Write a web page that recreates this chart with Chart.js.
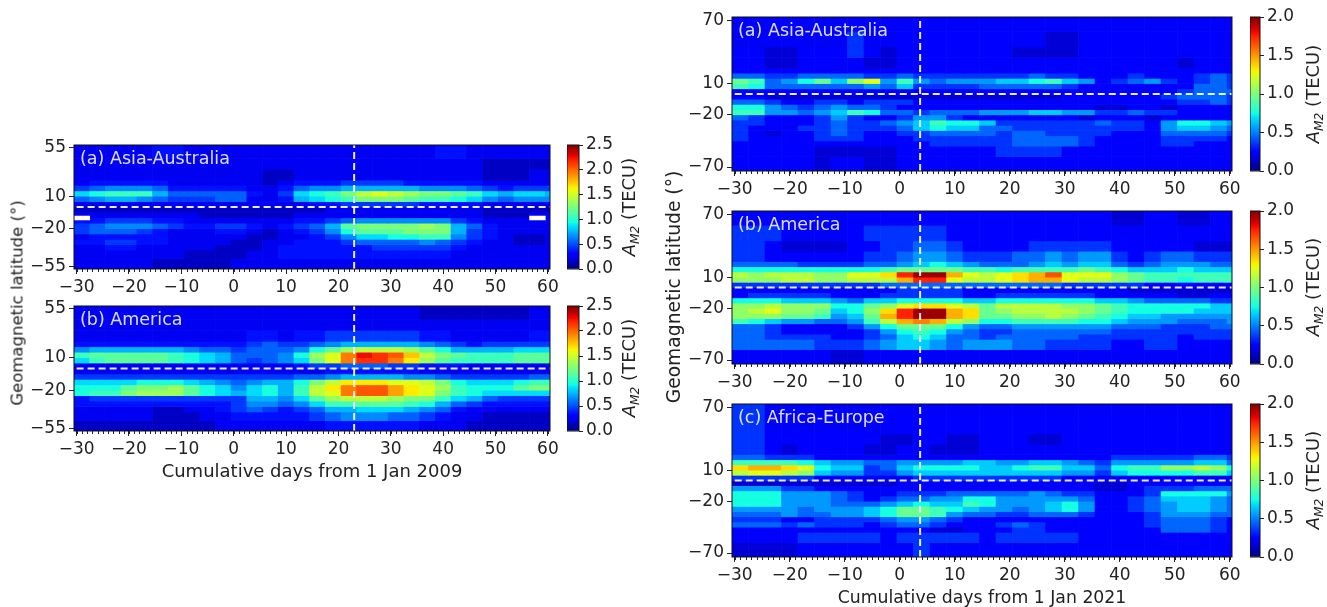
<!DOCTYPE html>
<html>
<head>
<meta charset="utf-8">
<title>A_M2 heat maps</title>
<script src="https://cdn.jsdelivr.net/npm/chart.js@4"></script>
<style>
  body { margin: 0; background: #fff; }
  #page { position: relative; width: 1327px; height: 607px; overflow: hidden; }
  canvas { position: absolute; }
  .rot {
    position: absolute; white-space: nowrap; color: #222;
    font-family: "DejaVu Sans", sans-serif;
    transform: translate(-50%, -50%) rotate(-90deg);
  }
  .rot sub { font-size: 0.68em; font-style: italic; line-height: 0; }
</style>
</head>
<body>
<div id="page"></div>
<script>
// one column every 3 days, values in tenths of TECU
const days = [-29,-26,-23,-20,-17,-14,-11,-8,-5,-2,1,4,7,10,13,16,19,22,25,28,31,34,37,40,43,46,49,52,55,58,61];
const dayTicks = [-30,-20,-10,0,10,20,30,40,50,60];

const latEdges2009 = [58,45,35,25,20,15,10,5,0,-5,-10,-15,-20,-25,-30,-35,-40,-48,-58];
const latEdges2021 = [74,60,45,35,25,20,15,10,5,0,-5,-10,-15,-20,-25,-30,-35,-40,-45,-50,-60,-74];
const latTicks2009 = [55,10,-20,-55];
const latTicks2021 = [70,10,-20,-70];
const cbarTicks2009 = [0,0.5,1,1.5,2,2.5];
const cbarTicks2021 = [0,0.5,1,1.5,2];

const eventDay2009 = 23;
const eventDay2021 = 3.7;
const missingDays = [-29,58];
const missingLat = [-12,-8.4];

const asia2009 = [
  [3,3,3,3,3,4,4,3,3,3,3,3,3,3,3,3,3,3,3,3,3,3,3,4,4,3,3,3,3,3,3],
  [3,3,3,3,3,3,3,3,3,3,3,3,3,3,3,3,3,3,3,3,3,3,3,3,3,3,2,2,2,2,2],
  [3,3,3,3,3,3,3,3,3,3,3,3,2,2,3,3,3,3,3,3,3,3,3,3,3,3,2,2,2,3,3],
  [3,4,4,4,4,4,3,3,3,3,3,3,2,3,4,4,4,5,5,5,5,4,4,4,4,4,3,3,3,3,3],
  [5,6,7,7,7,6,4,4,4,4,4,3,3,4,6,7,7,8,8,8,8,8,7,7,7,6,5,4,5,5,5],
  [9,10,11,11,11,8,6,6,6,6,6,4,3,5,9,10,11,13,15,16,15,14,13,13,12,11,9,8,9,9,8],
  [6,7,8,8,7,6,5,5,5,6,6,3,3,4,8,9,10,11,13,13,13,12,11,11,10,9,7,6,7,7,7],
  [3,3,3,3,3,3,3,3,3,3,3,3,3,3,3,4,4,5,5,5,5,5,4,4,4,4,3,3,3,3,3],
  [2,2,2,2,2,2,2,2,2,2,2,2,2,2,2,2,3,3,3,3,3,3,3,3,3,3,2,2,2,2,2],
  [3,3,3,3,3,3,3,3,2,2,2,2,2,2,3,3,3,3,3,3,3,3,3,3,3,3,2,2,2,3,3],
  [4,4,5,5,5,4,4,3,3,3,3,3,3,3,4,4,5,6,7,7,7,7,7,7,5,4,3,3,3,3,3],
  [5,6,7,7,7,6,5,4,4,5,5,4,3,4,5,6,8,12,13,13,13,13,14,13,8,6,4,3,3,3,3],
  [5,6,6,6,5,4,3,3,3,4,4,3,2,3,4,5,7,10,12,12,12,13,13,13,8,5,4,3,3,3,3],
  [3,4,4,4,4,4,3,3,3,3,3,2,2,3,3,4,5,7,9,9,10,10,11,11,7,5,4,3,2,2,3],
  [4,4,5,5,4,4,3,3,3,3,2,2,3,3,4,4,4,5,6,6,6,6,7,6,5,4,3,3,2,2,3],
  [3,3,4,4,3,3,3,3,3,2,2,2,3,4,4,4,4,4,4,5,5,5,5,5,4,3,3,3,3,3,3],
  [3,3,3,3,3,3,3,2,2,2,2,3,3,4,4,4,4,4,4,4,4,4,4,4,3,3,3,3,3,3,3],
  [3,3,3,3,3,2,2,2,2,2,3,3,3,3,3,3,3,3,3,3,3,3,3,3,3,3,3,3,3,3,3]
];

const america2009 = [
  [3,3,3,3,3,3,3,3,3,3,3,3,3,3,3,3,3,3,3,3,3,3,2,2,2,2,2,2,2,3,3],
  [3,3,3,3,3,3,3,3,3,3,3,3,3,3,3,3,3,3,3,3,3,3,3,3,3,3,3,3,3,3,3],
  [3,3,3,3,3,3,3,3,3,3,3,4,4,3,4,4,5,5,5,5,5,5,4,4,3,3,3,3,3,4,4],
  [4,4,4,4,4,4,4,4,4,4,4,5,6,5,5,6,7,8,8,8,8,8,7,6,5,4,5,5,5,5,5],
  [7,8,8,8,8,8,8,7,6,6,5,6,6,6,7,10,12,14,15,15,15,14,12,10,8,8,8,8,9,9,9],
  [11,12,12,12,12,12,11,10,9,8,6,6,6,7,10,14,16,20,23,22,21,18,15,13,12,11,11,11,12,12,12],
  [9,11,12,12,12,12,11,10,9,8,6,5,6,7,9,13,16,20,22,22,20,17,14,12,11,11,11,11,12,12,12],
  [3,3,3,3,3,3,3,3,3,3,3,3,3,3,4,5,5,6,6,6,5,5,4,4,4,3,3,3,3,3,3],
  [3,3,3,3,3,3,3,3,3,3,3,3,3,3,3,3,4,4,4,4,4,4,3,3,3,3,3,3,3,3,3],
  [5,5,5,5,5,5,5,5,5,5,5,5,5,5,6,6,7,8,8,8,8,7,7,6,5,5,5,5,5,6,6],
  [9,9,9,9,10,10,10,9,8,7,6,7,8,8,10,13,15,17,17,17,16,16,15,13,10,9,9,9,10,11,11],
  [10,10,10,12,13,13,14,12,10,9,7,9,10,8,11,15,17,20,21,21,19,17,16,14,11,10,10,10,12,13,13],
  [10,11,11,13,14,14,14,12,10,9,8,9,10,8,11,15,16,20,21,21,19,17,16,13,11,10,9,9,9,9,9],
  [4,5,5,5,5,5,5,5,5,5,5,8,8,7,9,12,14,15,15,15,14,13,13,11,9,8,6,5,5,5,5],
  [4,4,4,4,4,4,4,4,4,4,5,7,7,6,7,9,11,11,12,12,12,11,10,8,6,5,4,4,4,4,4],
  [3,3,3,3,3,2,2,3,3,4,5,6,5,4,5,6,8,8,9,9,9,8,7,6,4,3,3,3,3,3,3],
  [3,3,3,3,3,2,2,2,3,3,4,4,4,4,4,5,6,7,7,7,6,6,5,4,3,3,2,2,2,2,2],
  [2,2,2,2,2,2,2,2,2,3,3,3,3,3,3,3,4,4,4,4,4,4,3,3,3,2,2,2,2,2,2]
];

const asia2021 = [
  [3,3,3,3,3,3,3,3,3,3,3,3,3,3,3,3,3,3,3,3,3,3,3,3,3,3,3,3,3,3,3],
  [3,3,3,3,3,3,3,4,3,3,3,3,3,3,3,3,3,3,3,2,2,3,3,3,3,3,3,3,3,3,3],
  [3,3,2,2,3,3,3,4,3,2,3,3,3,3,3,3,3,2,2,2,2,3,3,3,3,3,3,3,3,3,3],
  [3,3,2,2,3,3,3,3,2,2,3,3,3,3,3,3,3,3,3,3,3,3,3,3,3,3,3,2,3,3,3],
  [3,3,3,3,3,3,3,3,3,3,3,3,3,3,3,3,3,3,3,3,3,3,3,3,3,3,3,3,3,3,3],
  [5,5,4,4,5,5,5,5,4,4,5,4,4,4,4,4,4,4,5,4,4,3,3,3,4,3,3,3,4,5,4],
  [10,9,5,6,8,10,7,11,13,6,9,6,5,6,6,6,7,7,8,9,7,6,3,4,5,6,4,3,4,5,4],
  [9,8,5,5,5,5,5,5,6,5,7,4,4,4,4,5,5,5,5,5,4,3,3,3,3,3,3,3,5,5,4],
  [3,3,3,3,3,3,3,3,3,3,3,3,3,3,3,3,3,3,3,3,3,3,3,3,3,3,3,4,5,5,5],
  [3,3,2,2,2,2,2,2,2,2,2,2,2,2,2,2,2,2,2,2,3,3,3,3,3,3,4,5,5,5,4],
  [5,5,4,3,3,4,4,3,4,4,4,3,3,3,3,3,3,3,3,3,3,3,3,3,3,3,3,4,4,5,4],
  [8,8,6,5,4,5,6,5,5,4,3,3,3,3,3,3,3,3,3,3,3,3,2,2,3,3,2,3,3,3,3],
  [9,9,6,6,5,6,7,9,8,5,5,4,5,5,5,6,6,6,7,7,6,6,4,4,5,4,4,3,3,3,3],
  [5,4,3,3,3,4,6,4,3,3,4,6,6,4,3,3,3,3,3,3,3,2,3,3,3,2,3,3,3,3,3],
  [4,4,3,3,3,4,5,4,4,5,6,7,9,8,8,7,4,4,4,4,4,4,5,4,4,3,6,8,8,7,6],
  [4,3,3,3,4,4,5,4,4,4,5,7,8,7,7,5,5,4,4,4,4,4,4,4,4,3,6,7,7,6,5],
  [4,3,2,3,3,4,5,4,3,3,4,4,5,5,5,5,4,5,5,4,4,4,4,3,3,3,5,5,5,5,4],
  [4,3,3,3,3,4,4,4,3,3,3,4,4,4,4,4,4,5,5,5,5,4,3,3,3,3,4,4,4,4,3],
  [3,3,3,3,3,3,3,3,3,3,3,3,4,4,4,4,4,5,5,5,5,4,3,3,3,3,4,4,3,3,3],
  [3,3,3,3,3,2,2,2,2,2,3,3,3,3,3,3,4,4,4,4,3,3,3,3,3,3,3,3,3,3,3],
  [3,3,3,3,3,2,3,3,2,2,3,3,3,3,3,3,3,3,3,3,3,3,3,3,3,3,3,3,3,3,3]
];

const america2021 = [
  [3,3,3,3,3,3,3,3,3,3,3,3,3,3,3,3,3,3,3,3,3,3,3,2,2,3,3,2,2,3,3],
  [4,4,4,3,3,3,3,3,4,4,4,4,4,3,3,3,3,3,3,3,3,3,3,3,3,3,3,3,3,3,3],
  [4,4,3,2,2,2,2,3,3,4,4,5,5,4,3,3,3,3,4,4,4,4,4,3,3,3,3,3,2,2,2],
  [4,4,3,3,3,3,3,3,4,4,5,6,6,5,4,4,4,5,5,6,5,6,6,4,3,4,5,5,4,4,4],
  [5,5,5,5,4,4,4,4,5,5,6,7,8,7,6,5,5,5,6,7,6,7,7,5,4,5,6,6,6,5,5],
  [8,8,8,8,8,8,8,8,8,9,10,10,10,10,9,9,8,9,9,9,9,10,9,8,7,7,7,8,7,7,7],
  [12,11,12,12,12,11,11,13,13,14,18,20,20,15,13,12,13,14,15,17,13,13,13,11,10,9,9,9,9,9,9],
  [11,11,11,12,12,11,11,12,12,12,15,18,18,13,12,12,13,14,15,15,13,12,12,11,10,9,9,8,9,9,9],
  [4,4,4,4,4,4,4,4,4,5,5,5,5,5,5,5,5,5,5,5,4,4,4,4,4,3,3,3,3,3,3],
  [3,3,3,3,3,3,3,3,3,3,4,4,4,4,3,3,3,3,3,3,3,3,3,3,2,2,2,2,2,2,2],
  [3,4,4,4,4,4,3,3,3,4,4,4,4,4,3,3,4,4,4,4,4,4,3,3,3,3,3,2,2,3,3],
  [8,8,8,7,7,7,6,5,7,7,8,8,8,8,7,7,8,8,8,8,8,8,7,7,6,5,5,5,5,4,4],
  [11,11,12,11,11,11,8,8,10,11,13,14,14,13,12,10,12,12,12,12,11,11,10,9,8,8,8,8,8,7,7],
  [11,12,13,11,11,10,7,8,11,14,18,20,20,15,14,10,11,12,12,12,12,11,10,9,8,8,8,8,7,7,7],
  [11,11,11,10,10,9,6,7,10,15,18,20,20,15,14,10,10,11,11,12,11,10,9,8,7,7,6,6,6,6,6],
  [9,8,7,6,6,5,5,6,9,12,15,16,15,12,11,8,8,9,9,9,9,8,8,7,6,6,6,5,5,5,6],
  [5,5,4,3,3,3,3,4,6,8,10,10,10,8,6,5,5,6,6,6,6,6,6,5,5,5,4,4,4,5,5],
  [5,5,4,3,3,3,3,3,4,6,8,9,8,6,5,4,4,5,5,5,5,5,5,4,4,4,4,4,4,4,4],
  [5,5,4,4,4,4,3,3,4,5,7,8,7,5,5,4,5,5,5,5,5,4,4,4,4,4,4,3,4,4,4],
  [5,5,5,5,5,4,4,4,5,6,7,7,6,5,6,6,6,5,5,4,4,4,4,3,3,4,4,3,3,3,3],
  [3,3,3,3,3,3,2,2,3,3,3,3,3,3,3,3,3,3,3,3,3,3,3,3,3,3,3,3,3,3,3]
];

const africa2021 = [
  [4,4,3,3,3,3,3,3,3,3,3,3,3,3,3,3,3,3,3,3,3,3,3,3,3,3,3,3,3,3,3],
  [4,4,3,3,3,3,3,3,3,3,3,3,3,3,3,3,3,3,3,3,3,3,3,3,3,3,3,3,3,3,3],
  [4,4,3,3,3,3,3,3,3,2,2,3,3,2,2,3,3,3,2,2,3,3,3,3,3,3,3,3,3,3,3],
  [4,4,3,2,3,3,3,3,2,2,3,3,2,2,2,3,3,3,3,3,3,3,3,3,3,3,3,3,3,3,3],
  [5,5,4,4,4,3,3,3,3,3,3,3,3,3,3,3,3,3,3,3,3,3,3,4,4,4,4,4,5,5,4],
  [9,9,9,9,8,7,6,6,5,5,6,6,6,6,7,7,6,6,7,7,6,5,4,6,6,6,6,6,7,7,5],
  [14,15,15,14,13,8,7,7,4,5,7,8,8,8,8,7,7,8,9,9,7,7,5,8,9,9,11,11,12,11,8],
  [12,13,13,12,11,7,6,6,4,4,6,7,7,7,7,7,7,7,7,7,6,6,4,7,8,8,8,8,9,9,7],
  [4,4,4,4,4,3,3,3,3,3,3,4,4,4,4,4,4,4,4,4,3,3,3,3,3,3,3,3,3,3,3],
  [2,2,2,2,2,2,2,2,2,2,3,3,3,3,3,3,3,3,3,3,3,3,2,2,3,3,3,3,3,3,3],
  [6,6,6,4,4,3,3,3,3,3,3,3,3,3,3,3,3,3,3,3,3,3,2,2,3,4,4,4,5,5,5],
  [8,8,8,6,6,6,5,4,3,3,4,4,4,5,5,5,5,5,6,5,4,4,3,3,3,4,8,8,8,8,6],
  [8,8,8,6,6,6,5,4,3,4,5,5,6,6,8,8,6,6,6,6,6,5,3,3,4,5,7,7,7,6,5],
  [8,8,8,6,6,6,5,5,5,6,7,8,7,7,9,8,6,6,6,7,8,6,3,3,4,5,6,7,7,6,5],
  [6,6,6,6,5,6,6,6,7,8,10,10,9,8,7,6,6,5,6,7,8,6,3,3,4,5,6,7,7,6,5],
  [5,5,5,6,5,5,6,6,7,8,10,10,9,6,5,5,4,4,5,5,5,4,3,3,3,4,6,6,6,5,5],
  [4,4,4,3,3,4,4,4,4,5,6,6,5,4,3,3,3,3,3,3,3,3,3,3,3,4,5,5,5,4,3],
  [5,5,5,4,5,4,4,4,3,4,5,5,4,3,3,3,4,5,4,3,3,3,3,3,3,4,5,5,5,4,3],
  [3,3,3,3,3,3,3,3,3,3,3,3,2,2,3,3,3,4,4,3,3,3,3,3,3,3,5,5,5,4,3],
  [3,3,3,3,4,4,4,4,4,3,4,4,4,4,4,3,4,4,4,4,4,3,3,3,3,3,3,3,3,3,3],
  [2,2,2,2,3,3,3,3,3,3,3,4,3,3,3,3,3,3,3,3,3,3,3,3,3,3,3,3,3,3,3]
];

const FONT = { family: '"DejaVu Sans", sans-serif', size: 17 };
const INK = '#222';
const page = document.getElementById('page');

// matplotlib jet
const jetR = [[0,0],[0.35,0],[0.66,1],[0.89,1],[1,0.5]];
const jetG = [[0,0],[0.125,0],[0.375,1],[0.64,1],[0.91,0],[1,0]];
const jetB = [[0,0.5],[0.11,1],[0.34,1],[0.65,0],[1,0]];

function lerpStops(stops, t) {
  for (let i = 1; i < stops.length; i++) {
    if (t <= stops[i][0]) {
      const a = stops[i - 1], b = stops[i];
      return a[1] + (b[1] - a[1]) * (t - a[0]) / (b[0] - a[0]);
    }
  }
  return stops[stops.length - 1][1];
}

function jet(t) {
  t = Math.max(0, Math.min(1, t));
  const c = [jetR, jetG, jetB].map(s => Math.round(lerpStops(s, t) * 255));
  return 'rgb(' + c.join(',') + ')';
}

function addCanvas(left, top, width, height) {
  const c = document.createElement('canvas');
  c.width = width;
  c.height = height;
  c.style.left = left + 'px';
  c.style.top = top + 'px';
  page.appendChild(c);
  return c;
}

function addRotated(html, x, y, size) {
  const d = document.createElement('div');
  d.className = 'rot';
  d.innerHTML = html;
  d.style.left = x + 'px';
  d.style.top = y + 'px';
  d.style.fontSize = size + 'px';
  page.appendChild(d);
}

const minus = v => String(v).replace('-', '\u2212');

function noAxisPadding(s) {
  s.paddingTop = 0;
  s.paddingBottom = 0;
  s.paddingLeft = 0;
  s.paddingRight = 0;
}

function spines(chart) {
  const a = chart.chartArea, ctx = chart.ctx;
  ctx.save();
  ctx.strokeStyle = '#111';
  ctx.lineWidth = 1;
  ctx.strokeRect(a.left, a.top, a.right - a.left, a.bottom - a.top);
  ctx.restore();
}

function createHeatmap(box, rows, edges, latTicks, latMax, vmax, eventDay, label, xTitle, titleSize, missing) {
  const axisH = xTitle ? 52 : 30;
  const canvas = addCanvas(box.x - 60, box.y - 8, box.w + 72, box.h + 8 + axisH);

  // the readings run about 0.05 TECU high against the colour bar, so take half a tenth off
  const datasets = rows.map((row, r) => ({
    type: 'bar',
    order: 3,
    data: row.map((v, i) => ({ x: days[i], y: [edges[r + 1], edges[r]] })),
    backgroundColor: row.map(v => jet((v - 0.5) / 10 / vmax)),
    barPercentage: 1,
    categoryPercentage: 1
  }));

  if (missing) {
    datasets.push({
      type: 'bar',
      order: 1,
      data: missingDays.map(d => ({ x: d, y: missingLat })),
      backgroundColor: '#fff',
      barPercentage: 1,
      categoryPercentage: 1
    });
  }

  const dashed = { type: 'line', order: 0, borderColor: 'rgba(255,255,255,0.92)', borderWidth: 2,
    borderDash: [7, 4], pointRadius: 0, fill: false };
  datasets.push(Object.assign({}, dashed, { data: [{ x: -30, y: 0 }, { x: 60.4, y: 0 }] }));
  datasets.push(Object.assign({}, dashed, { data: [{ x: eventDay, y: -latMax }, { x: eventDay, y: latMax }] }));

  new Chart(canvas, {
    data: { datasets: datasets },
    options: {
      responsive: false,
      animation: false,
      events: [],
      grouped: false,
      layout: { padding: { top: 8, right: 12 } },
      plugins: { legend: { display: false }, tooltip: { enabled: false } },
      scales: {
        x: {
          type: 'linear',
          offset: false,
          min: -30.5,
          max: 60.4,
          afterBuildTicks: s => { s.ticks = dayTicks.map(v => ({ value: v })); },
          afterFit: s => { s.height = axisH; noAxisPadding(s); },
          border: { display: false },
          grid: { offset: false, drawOnChartArea: false, tickLength: 5, tickColor: INK },
          ticks: { autoSkip: false, maxRotation: 0, padding: 3, color: INK, font: FONT, callback: minus },
          title: { display: !!xTitle, text: xTitle, color: INK, font: { family: FONT.family, size: titleSize }, padding: 0 }
        },
        y: {
          type: 'linear',
          min: -latMax,
          max: latMax,
          afterBuildTicks: s => { s.ticks = latTicks.map(v => ({ value: v })); },
          afterFit: s => { s.width = 60; noAxisPadding(s); },
          border: { display: false },
          grid: { drawOnChartArea: false, tickLength: 5, tickColor: INK },
          ticks: { autoSkip: false, padding: 3, color: INK, font: FONT, callback: minus }
        }
      }
    },
    plugins: [{
      id: 'panelDecor',
      afterDraw(chart) {
        spines(chart);
        const a = chart.chartArea, ctx = chart.ctx, xs = chart.scales.x;
        ctx.save();
        // minor ticks, one per day
        ctx.strokeStyle = INK;
        ctx.lineWidth = 1;
        for (let d = -30; d <= 60; d++) {
          const px = Math.round(xs.getPixelForValue(d)) + 0.5;
          ctx.beginPath();
          ctx.moveTo(px, a.bottom);
          ctx.lineTo(px, a.bottom + 3);
          ctx.stroke();
        }
        ctx.fillStyle = 'rgba(255,255,255,0.86)';
        ctx.font = '17.5px "DejaVu Sans", sans-serif';
        ctx.textBaseline = 'middle';
        ctx.fillText(label, a.left + 6, a.top + 14);
        ctx.restore();
      }
    }]
  });
}

function createColorbar(x, w, y, h, vmax, ticks) {
  const canvas = addCanvas(x, y - 10, w + 52, h + 20);
  new Chart(canvas, {
    type: 'bar',
    data: {
      labels: [''],
      datasets: [{
        data: [[0, vmax]],
        barPercentage: 1,
        categoryPercentage: 1,
        backgroundColor: ctx => {
          const a = ctx.chart.chartArea;
          if (!a) return '#00f';
          const g = ctx.chart.ctx.createLinearGradient(0, a.bottom, 0, a.top);
          for (let i = 0; i <= 40; i++) g.addColorStop(i / 40, jet(i / 40));
          return g;
        }
      }]
    },
    options: {
      responsive: false,
      animation: false,
      events: [],
      layout: { padding: { top: 10, bottom: 10 } },
      plugins: { legend: { display: false }, tooltip: { enabled: false } },
      scales: {
        x: { display: false },
        y: {
          position: 'right',
          min: 0,
          max: vmax,
          afterBuildTicks: s => { s.ticks = ticks.map(v => ({ value: v })); },
          afterFit: s => { s.width = 52; noAxisPadding(s); },
          border: { display: false },
          grid: { drawOnChartArea: false, tickLength: 4, tickColor: INK },
          ticks: { autoSkip: false, padding: 3, color: INK, font: FONT, callback: v => v.toFixed(1) }
        }
      }
    },
    plugins: [{ id: 'cbarFrame', afterDraw: spines }]
  });
}

const xTitle2009 = 'Cumulative days from 1 Jan 2009';
const xTitle2021 = 'Cumulative days from 1 Jan 2021';

createHeatmap({ x: 74, y: 145, w: 476, h: 124 }, asia2009, latEdges2009, latTicks2009, 57.5, 2.5, eventDay2009, '(a) Asia-Australia', null, 18, true);
createHeatmap({ x: 74, y: 306, w: 476, h: 125 }, america2009, latEdges2009, latTicks2009, 57.5, 2.5, eventDay2009, '(b) America', xTitle2009, 18, false);
createHeatmap({ x: 732, y: 17, w: 500, h: 154 }, asia2021, latEdges2021, latTicks2021, 73.8, 2, eventDay2021, '(a) Asia-Australia', null, 17.3, false);
createHeatmap({ x: 732, y: 211, w: 500, h: 153 }, america2021, latEdges2021, latTicks2021, 73.8, 2, eventDay2021, '(b) America', null, 17.3, false);
createHeatmap({ x: 732, y: 404, w: 500, h: 153 }, africa2021, latEdges2021, latTicks2021, 73.8, 2, eventDay2021, '(c) Africa-Europe', xTitle2021, 17.3, false);

createColorbar(567, 12, 145, 124, 2.5, cbarTicks2009);
createColorbar(567, 12, 306, 125, 2.5, cbarTicks2009);
createColorbar(1250, 10, 17, 154, 2, cbarTicks2021);
createColorbar(1250, 10, 211, 153, 2, cbarTicks2021);
createColorbar(1250, 10, 404, 153, 2, cbarTicks2021);

const cbarLabel = '<i>A<sub>M2</sub></i> (TECU)';
addRotated(cbarLabel, 628, 207, 18);
addRotated(cbarLabel, 628, 368, 18);
addRotated(cbarLabel, 1312, 94, 18);
addRotated(cbarLabel, 1312, 287, 18);
addRotated(cbarLabel, 1312, 480, 18);
addRotated('Geomagnetic latitude (\u00b0)', 17, 303, 16.5);
addRotated('Geomagnetic latitude (\u00b0)', 673, 287, 18.7);
</script>
</body>
</html>
